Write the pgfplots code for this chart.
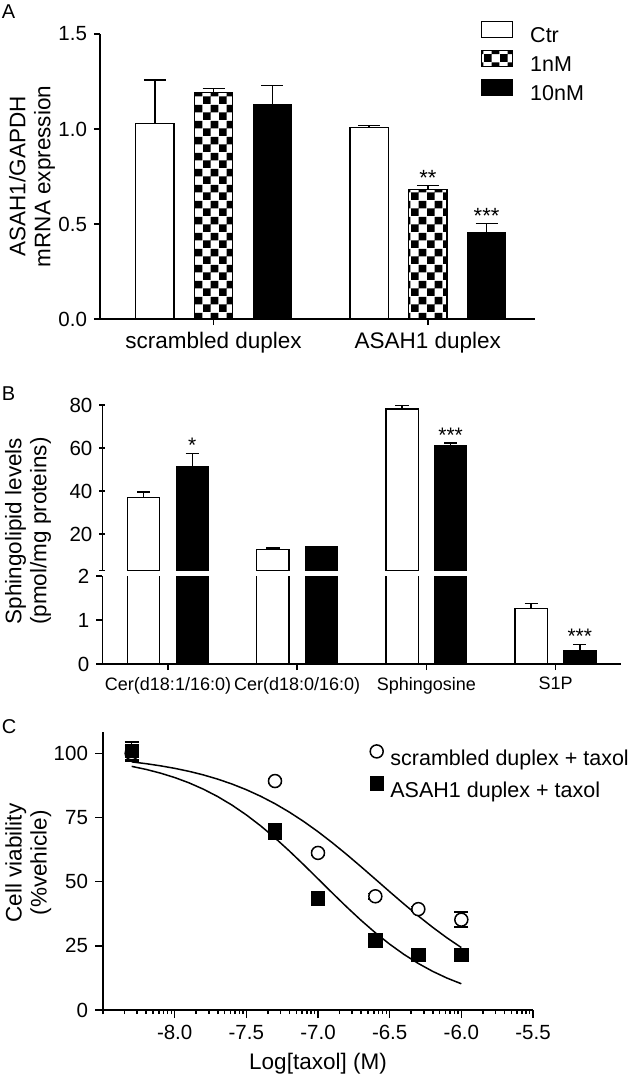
\documentclass[border=0pt]{standalone}
\usepackage{fontspec}
\setmainfont{Liberation Sans}
\usepackage{pgfplots}
\pgfplotsset{compat=1.18}
\usetikzlibrary{patterns}
\pgfdeclarepatternformonly{bigcheck}{\pgfqpoint{0pt}{0pt}}{\pgfqpoint{7.8pt}{7.8pt}}{\pgfqpoint{7.8pt}{7.8pt}}{%
  \pgfpathrectangle{\pgfqpoint{0pt}{0pt}}{\pgfqpoint{3.9pt}{3.9pt}}%
  \pgfpathrectangle{\pgfqpoint{3.9pt}{3.9pt}}{\pgfqpoint{3.9pt}{3.9pt}}%
  \pgfusepath{fill}}
\pgfplotsset{
  mybar/.style={ybar, bar width=#1, bar shift=0pt, line width=0.6pt, draw=black,
    error bars/y dir=plus, error bars/y explicit,
    error bars/error bar style={line width=0.75pt, black, solid},
    legend image code/.code={\draw[##1] (0pt,-0.25pt) rectangle (15.5pt,7.75pt);}},
  every axis/.append style={scale only axis, axis lines=left,
    axis line style={-, line width=0.75pt}, tick align=outside,
    tick style={line width=0.75pt, black}, major tick length=3pt,
    tick label style={font=\fontsize{10.25}{12}\selectfont},
    label style={font=\fontsize{11.25}{12.5}\selectfont}},
}
\begin{document}
\begin{tikzpicture}
\useasboundingbox (0,0) rectangle (316.5pt,-538pt);
\node[anchor=base west, inner sep=0pt, font=\fontsize{10}{12}\selectfont] at (0.8pt,-9.2pt) {A};
\node[anchor=base west, inner sep=0pt, font=\fontsize{10}{12}\selectfont] at (0.8pt,-200pt) {B};
\node[anchor=base west, inner sep=0pt, font=\fontsize{10}{12}\selectfont] at (0.8pt,-366.7pt) {C};

% ---------------- Panel A ----------------
\begin{axis}[at={(50pt,-159.5pt)}, anchor=south west, width=217.5pt, height=142.5pt,
  xmin=-0.53, xmax=1.5, ymin=0, ymax=1.5,
  xtick={0,1}, xticklabels={scrambled duplex, ASAH1 duplex},
  xticklabel style={font=\fontsize{11.25}{12}\selectfont},
  ytick={0,0.5,1,1.5}, yticklabels={0.0,0.5,1.0,1.5},
  ylabel={ASAH1/GAPDH\\mRNA expression},
  ylabel style={align=center, at={(axis description cs:-0.156,0.5)}, anchor=center},
  error bars/error mark options={rotate=90, mark size=5.5pt, line width=0.75pt, black},
  legend style={at={(axis description cs:0.875,1.048)}, anchor=north west, draw=none, fill=none,
    inner sep=0pt, row sep=2pt, column sep=8.5pt, font=\fontsize{10.75}{12}\selectfont,
    nodes={inner sep=0pt}},
  legend cell align=left]
\addplot[mybar=0.179, fill=white] coordinates {(-0.274,1.027) +- (0,0.232) (0.726,1.010) +- (0,0.008)};
\addlegendentry{Ctr}
\addplot[mybar=0.179, pattern=bigcheck, pattern color=black] coordinates {(0,1.192) +- (0,0.021) (1,0.680) +- (0,0.022)};
\addlegendentry{1nM}
\addplot[mybar=0.179, fill=black] coordinates {(0.274,1.126) +- (0,0.103) (1.274,0.455) +- (0,0.047)};
\addlegendentry{10nM}
\node[anchor=base, inner sep=0pt, font=\fontsize{11}{12}\selectfont] at (axis cs:1,0.705) {**};
\node[anchor=base, inner sep=0pt, font=\fontsize{11}{12}\selectfont] at (axis cs:1.274,0.505) {***};
\end{axis}

% ---------------- Panel B (upper segment) ----------------
\begin{axis}[at={(51.2pt,-285.3pt)}, anchor=south west, width=259.5pt, height=82.8pt,
  xmin=-0.508, xmax=3.51, ymin=3, ymax=80, clip limits=false,
  axis x line=none, axis y line=left, axis line style={-, line width=0.75pt},
  ytick={3,20,40,60,80}, yticklabels={,20,40,60,80},
  ylabel={Sphingolipid levels\\(pmol/mg proteins)},
  ylabel style={align=center, at={(axis description cs:-0.143,0.239)}, anchor=center},
  error bars/error mark options={rotate=90, mark size=3.3pt, line width=0.75pt, black}]
\addplot[mybar=0.25, fill=white] coordinates {(-0.188,36.9) +- (0,2.6) (0.812,13.0) +- (0,0.6) (1.812,78.1) +- (0,1.7)};
\addplot[mybar=0.25, fill=black] coordinates {(0.188,51.5) +- (0,5.9) (1.188,14.0) +- (0,0.3) (2.188,61.0) +- (0,1.4)};
\node[anchor=base, inner sep=0pt, font=\fontsize{10.5}{12}\selectfont] at (axis cs:0.188,57.8) {*};
\node[anchor=base, inner sep=0pt, font=\fontsize{10.5}{12}\selectfont] at (axis cs:2.188,62.8) {***};
\end{axis}

% ---------------- Panel B (lower segment) ----------------
\begin{axis}[at={(51.2pt,-332pt)}, anchor=south west, width=259.5pt, height=44pt,
  xmin=-0.508, xmax=3.51, ymin=0, ymax=2, clip limits=false,
  xtick={0,1,2,3}, xticklabels={{Cer(d18:1/16:0)},{Cer(d18:0/16:0)},{Sphingosine},{S1P}},
  xticklabel style={font=\fontsize{9}{10}\selectfont},
  ytick={0,1,2}, yticklabels={0,1,2},
  error bars/error mark options={rotate=90, mark size=3.3pt, line width=0.75pt, black}]
\addplot[mybar=0.25, fill=white] coordinates {(-0.188,36.9) (0.812,13.0) (1.812,78.1) (2.812,1.27) +- (0,0.11)};
\addplot[mybar=0.25, fill=black] coordinates {(0.188,51.5) (1.188,14.0) (2.188,61.0) (3.188,0.31) +- (0,0.13)};
\node[anchor=base, inner sep=0pt, font=\fontsize{10.5}{12}\selectfont] at (axis cs:3.188,0.46) {***};
\end{axis}

% ---------------- Panel C: half-decade log minor ticks (overlay axis) ----------------
\begin{axis}[at={(51.5pt,-505pt)}, anchor=south west, width=215pt, height=139pt,
  xmode=log, xmin=1e-17, xmax=1e-11, ymin=0, ymax=1,
  axis x line*=bottom, axis y line=none, x axis line style={draw=none},
  xtick={1e-17,1e-16,1e-15,1e-14,1e-13,1e-12,1e-11}, xticklabels={},
  major tick length=2pt, minor tick length=2pt]
\end{axis}

% ---------------- Panel C ----------------
\begin{axis}[at={(51.5pt,-505pt)}, anchor=south west, width=215pt, height=139pt,
  xmin=-8.5, xmax=-5.5, ymin=0, ymax=108.3,
  major tick length=4pt,
  xtick={-8,-7.5,-7,-6.5,-6,-5.5}, xticklabels={-8.0,-7.5,-7.0,-6.5,-6.0,-5.5},
  ytick={0,25,50,75,100}, yticklabels={0,25,50,75,100},
  xlabel={Log[taxol] (M)},
  xlabel style={at={(axis description cs:0.5,-0.155)}, anchor=north, inner sep=0pt},
  ylabel={Cell viability\\(\%vehicle)},
  ylabel style={align=center, at={(axis description cs:-0.174,0.529)}, anchor=center},
  legend style={at={(axis description cs:0.62,0.955)}, anchor=north west, draw=none, fill=none,
    inner sep=0pt, row sep=4.2pt, column sep=3.5pt, font=\fontsize{10.75}{12}\selectfont,
    nodes={inner sep=0pt}},
  legend cell align=left,
  legend image code/.code={\draw[#1] plot coordinates {(3.5pt,3.75pt)};}]
\addplot[line width=0.75pt, forget plot] coordinates {
(-8.3,96.66) (-8.2,95.97) (-8.1,95.14) (-8.0,94.15) (-7.9,92.98) (-7.8,91.59)
(-7.7,89.95) (-7.6,88.04) (-7.5,85.82) (-7.4,83.27) (-7.3,80.37) (-7.2,77.09)
(-7.1,73.45) (-7.0,69.47) (-6.9,65.16) (-6.8,60.60) (-6.7,55.84) (-6.6,50.98)
(-6.5,46.09) (-6.4,41.28) (-6.3,36.63) (-6.2,32.22) (-6.1,28.10) (-6.0,24.32)};
\addplot[line width=0.75pt, forget plot] coordinates {
(-8.3,94.92) (-8.2,93.74) (-8.1,92.30) (-8.0,90.57) (-7.9,88.50) (-7.8,86.04)
(-7.7,83.16) (-7.6,79.82) (-7.5,76.01) (-7.4,71.74) (-7.3,67.04) (-7.2,61.96)
(-7.1,56.61) (-7.0,51.11) (-6.9,45.58) (-6.8,40.16) (-6.7,34.96) (-6.6,30.10)
(-6.5,25.65) (-6.4,21.65) (-6.3,18.13) (-6.2,15.06) (-6.1,12.44) (-6.0,10.22)};
\addplot[only marks, mark=*, mark size=3.25pt, mark options={fill=white, draw=black, line width=0.75pt},
  error bars/y dir=both, error bars/y explicit,
  error bars/error bar style={line width=0.75pt, black},
  error bars/error mark options={rotate=90, mark size=3.5pt, line width=0.75pt, black}]
  coordinates {(-8.3,100) +- (0,3) (-7.3,89.2) +- (0,1) (-7.0,61.2) +- (0,1) (-6.6,44.3) +- (0,1) (-6.3,39.3) +- (0,1) (-6.0,35.2) +- (0,2.9)};
\addlegendentry{scrambled duplex + taxol}
\addplot[only marks, mark=square*, mark size=3.35pt, mark options={fill=black, draw=black},
  error bars/y dir=both, error bars/y explicit,
  error bars/error bar style={line width=0.75pt, black},
  error bars/error mark options={rotate=90, mark size=3.5pt, line width=0.75pt, black}]
  coordinates {(-8.3,100.9) +- (0,3.6) (-7.3,69.6) +- (0,2.9) (-7.0,43.5) +- (0,1) (-6.6,27.1) +- (0,1) (-6.3,21.5) +- (0,1) (-6.0,21.5) +- (0,1)};
\addlegendentry{ASAH1 duplex + taxol}
\end{axis}
\end{tikzpicture}
\end{document}
